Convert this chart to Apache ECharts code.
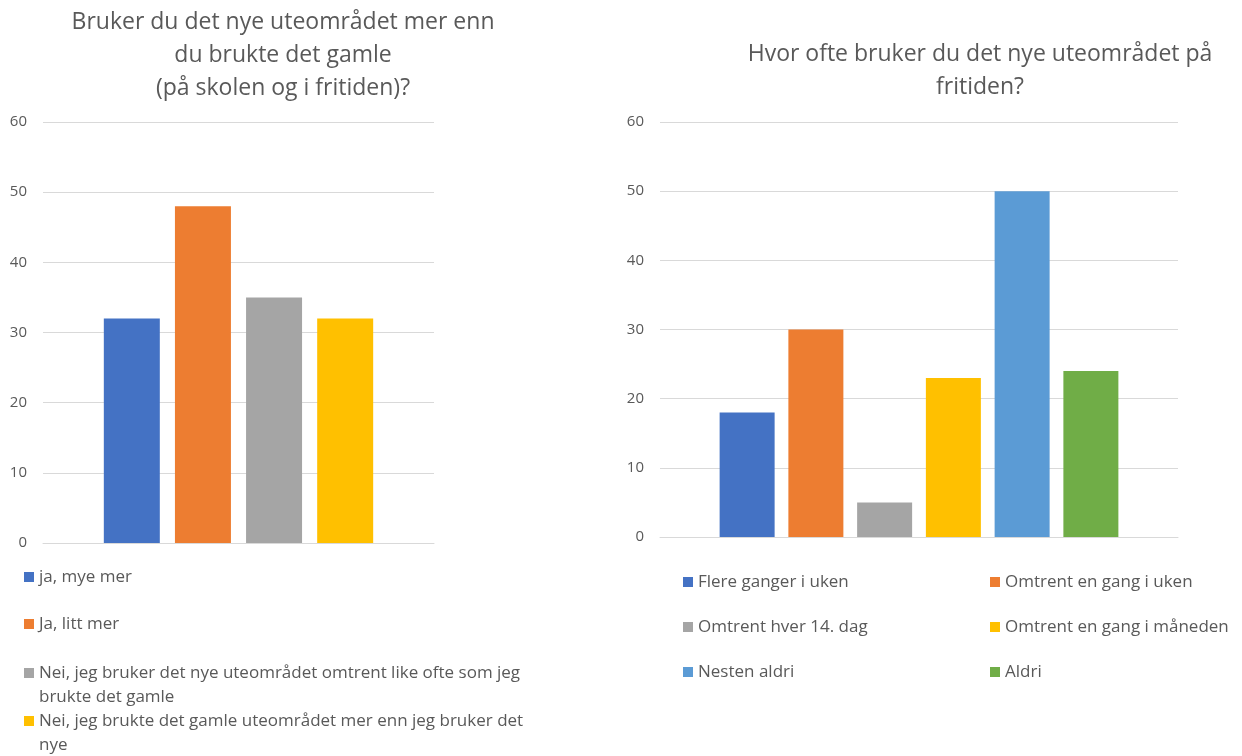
<!DOCTYPE html>
<html>
<head>
<meta charset="utf-8">
<script src="https://cdn.jsdelivr.net/npm/echarts@6/dist/echarts.min.js"></script>
<style>
html,body{margin:0;padding:0;background:#fff;}
#c{width:1242px;height:756px;}
</style>
</head>
<body>
<div id="c"></div>
<script>
// ---- Data ----
const leftTitle = "Bruker du det nye uteområdet mer enn\ndu brukte det gamle\n(på skolen og i fritiden)?";
const leftNames = [
  "ja, mye mer",
  "Ja, litt mer",
  "Nei, jeg bruker det nye uteområdet omtrent like ofte som jeg brukte det gamle",
  "Nei, jeg brukte det gamle uteområdet mer enn jeg bruker det nye"
];
const leftLegendLabels = [
  "ja, mye mer",
  "Ja, litt mer",
  "Nei, jeg bruker det nye uteområdet omtrent like ofte som jeg\nbrukte det gamle",
  "Nei, jeg brukte det gamle uteområdet mer enn jeg bruker det\nnye"
];
const leftValues = [32, 48, 35, 32];

const rightTitle = "Hvor ofte bruker du det nye uteområdet på\nfritiden?";
const rightNames = [
  "Flere ganger i uken",
  "Omtrent en gang i uken",
  "Omtrent hver 14. dag",
  "Omtrent en gang i måneden",
  "Nesten aldri",
  "Aldri"
];
const rightValues = [18, 30, 5, 23, 50, 24];

const yMin = 0, yMax = 60, yStep = 10;

const leftColors = ["#4472C4", "#ED7D31", "#A5A5A5", "#FFC000"];
const rightColors = ["#4472C4", "#ED7D31", "#A5A5A5", "#FFC000", "#5B9BD5", "#70AD47"];

// ---- Chart ----
const FONT = "'Open Sans', 'Noto Sans', sans-serif";
const TXT = "#595959";
const GRIDC = "#D9D9D9";

const chart = echarts.init(document.getElementById('c'), null, {renderer: 'canvas'});

function yAxis(gi) {
  return {
    type: 'value', gridIndex: gi, min: yMin, max: yMax, interval: yStep,
    axisLine: {show: false}, axisTick: {show: false},
    axisLabel: {color: TXT, fontSize: 15, fontFamily: FONT, margin: 16},
    splitLine: {lineStyle: {color: GRIDC, width: 1}}
  };
}
function xAxis(gi) {
  return {
    type: 'category', gridIndex: gi, data: [''],
    axisLine: {lineStyle: {color: GRIDC, width: 1}},
    axisTick: {show: false}, axisLabel: {show: false}
  };
}

const series = [];
leftNames.forEach((n, i) => {
  series.push({
    type: 'bar', name: n, xAxisIndex: 0, yAxisIndex: 0,
    data: [leftValues[i]], barWidth: 56, barGap: '27%',
    itemStyle: {color: leftColors[i]}, silent: true
  });
});
rightNames.forEach((n, i) => {
  series.push({
    type: 'bar', name: n, xAxisIndex: 1, yAxisIndex: 1,
    data: [rightValues[i]], barWidth: 55, barGap: '25%',
    itemStyle: {color: rightColors[i]}, silent: true
  });
});

const legendBase = {
  orient: 'vertical', icon: 'rect', itemWidth: 10, itemHeight: 10,
  selectedMode: false, padding: 0,
  textStyle: {color: TXT, fontSize: 17, fontFamily: FONT, lineHeight: 24}
};

const leftLegendCenters = [577, 624, 673, 721];
const legends = leftNames.map((n, i) => {
  const multi = leftLegendLabels[i].indexOf('\n') >= 0;
  // for wrapped labels, a leading blank line keeps the icon beside the first line
  const label = multi ? '\n' + leftLegendLabels[i] : leftLegendLabels[i];
  return Object.assign({}, legendBase, {
    left: 24, top: leftLegendCenters[i] - (multi ? 36 : 12),
    data: [n],
    formatter: () => label
  });
});
// right legend: two columns
legends.push(Object.assign({}, legendBase, {
  left: 683, top: 570, itemGap: 21,
  data: [rightNames[0], rightNames[2], rightNames[4]]
}));
legends.push(Object.assign({}, legendBase, {
  left: 990, top: 570, itemGap: 21,
  data: [rightNames[1], rightNames[3], rightNames[5]]
}));

const titleStyle = (t, x, y) => ({
  type: 'text', x: x, y: y, silent: true,
  style: {text: t, fill: TXT, fontSize: 23, fontFamily: FONT, lineHeight: 33,
          align: 'center', verticalAlign: 'top'}
});

chart.setOption({
  backgroundColor: '#ffffff',
  animation: false,
  graphic: [titleStyle(leftTitle, 283, 6), titleStyle(rightTitle, 980, 38)],
  legend: legends,
  grid: [
    {left: 43, right: 808, top: 122, bottom: 213},
    {left: 660, right: 64, top: 122, bottom: 219}
  ],
  xAxis: [xAxis(0), xAxis(1)],
  yAxis: [yAxis(0), yAxis(1)],
  series: series
});
</script>
</body>
</html>
